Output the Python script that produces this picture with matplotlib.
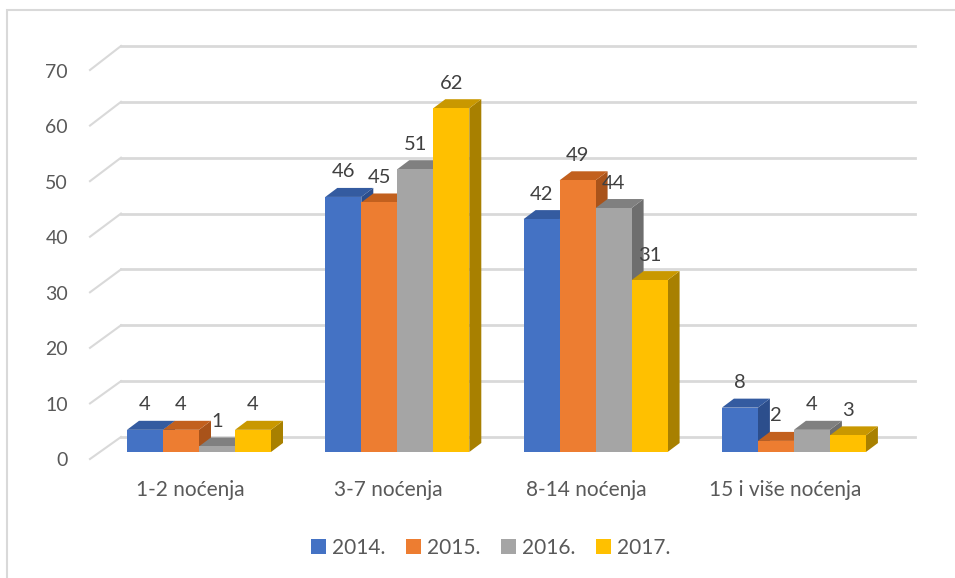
import matplotlib
matplotlib.use("Agg")
import matplotlib.pyplot as plt
from matplotlib.patches import Polygon, Rectangle
from matplotlib.lines import Line2D

categories = ["1-2 noćenja", "3-7 noćenja", "8-14 noćenja", "15 i više noćenja"]
series_names = ["2014.", "2015.", "2016.", "2017."]
values = {
    "2014.": [4, 46, 42, 8],
    "2015.": [4, 45, 49, 2],
    "2016.": [1, 51, 44, 4],
    "2017.": [4, 62, 31, 3],
}
yticks = [0, 10, 20, 30, 40, 50, 60, 70]

front_col = ["#4472C4", "#ED7D31", "#A5A5A5", "#FFC000"]
top_col = ["#345BA0", "#C2601E", "#808080", "#C99800"]
side_col = ["#2C4E8C", "#A9531A", "#6E6E6E", "#A88000"]

W, H = 955, 578
fig = plt.figure(figsize=(W / 100, H / 100), dpi=100)
ax = fig.add_axes([0, 0, 1, 1])
ax.axis("off")

# pixel geometry -> data mapping
PX_PER_UNIT = 5.545
Y0_PIX = 452.0
GROUP_PIX = 198.3
C0_PIX = 199.0
ylim_top = Y0_PIX / PX_PER_UNIT
ylim_bot = (Y0_PIX - H) / PX_PER_UNIT
xlim_l = -C0_PIX / GROUP_PIX
xlim_r = (W - C0_PIX) / GROUP_PIX
ax.set_xlim(xlim_l, xlim_r)
ax.set_ylim(ylim_bot, ylim_top)

def px_x(p):
    return p / GROUP_PIX

def px_y(p):
    return p / PX_PER_UNIT

text_col = "#595959"
label_col = "#404040"
grid_col = "#D9D9D9"
font = "Lato"

# back wall gridlines + diagonal floor/wall edges
back_shift = px_y(15)
front_shift = -px_y(7)
back_scale = 5.586 / PX_PER_UNIT
front_scale = 5.557 / PX_PER_UNIT
x_back_l = xlim_l + px_x(121)
x_back_r = xlim_l + px_x(915)
x_front = xlim_l + px_x(90)
for t in yticks:
    yb = back_shift + t * back_scale
    yf = front_shift + t * front_scale
    ax.add_line(Line2D([x_back_l, x_back_r], [yb, yb], color=grid_col, lw=2, zorder=1))
    ax.add_line(Line2D([x_front, x_back_l], [yf, yb], color=grid_col, lw=1.5, zorder=1))
    ax.text(xlim_l + px_x(68), yf - px_y(2), str(t), ha="right", va="center",
            fontsize=14, color=text_col, family=font)

# bars
bw = px_x(36)
dx = px_x(12)
dy = px_y(9)
n = len(series_names)
for ci, cat in enumerate(categories):
    start = ci - n * bw / 2
    for si, s in enumerate(series_names):
        v = values[s][ci]
        x0 = start + si * bw
        x1 = x0 + bw
        z = 3 + si
        ax.add_patch(Polygon([(x1, 0), (x1 + dx, dy), (x1 + dx, v + dy), (x1, v)],
                             closed=True, fc=side_col[si], ec="none", zorder=z))
        ax.add_patch(Polygon([(x0, v), (x1, v), (x1 + dx, v + dy), (x0 + dx, v + dy)],
                             closed=True, fc=top_col[si], ec="none", zorder=z))
        ax.add_patch(Rectangle((x0, 0), bw, v, fc=front_col[si], ec="none", zorder=z))
        ax.text((x0 + x1) / 2, v + px_y(25), str(v), ha="center", va="center",
                fontsize=14.5, color=label_col, family=font, zorder=20)
    ax.text(ci - px_x(9), -px_y(38), cat, ha="center", va="center", fontsize=15,
            color=text_col, family=font)

# legend
handles = [Rectangle((0, 0), 1, 1, fc=c, ec="none") for c in front_col]
leg = fig.legend(handles, series_names, loc="center", ncol=4,
                 bbox_to_anchor=(491 / W, 1 - 548 / H), frameon=False,
                 handlelength=0.7, handleheight=0.7, handletextpad=0.3,
                 columnspacing=1.0, prop={"family": font, "size": 15})
for t in leg.get_texts():
    t.set_color(text_col)

# outer border
fig.patches.append(Rectangle((7 / W, -0.05), 1.1, 1 - 10 / H + 0.05,
                             transform=fig.transFigure, fill=False,
                             ec=grid_col, lw=1.5, zorder=0))

fig.savefig("out.png", dpi=100)
